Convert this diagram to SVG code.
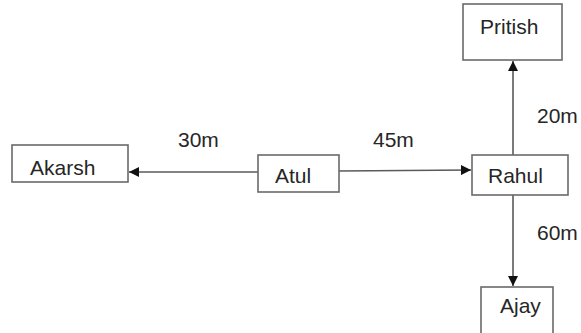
<svg xmlns="http://www.w3.org/2000/svg" width="581" height="333" viewBox="0 0 581 333">
<style>
.box{fill:#fff;stroke:#6a6a6a;stroke-width:1.6}
.lbl{font-family:"Liberation Sans",Arial,sans-serif;font-size:21px;fill:#262626}
.edge{stroke:#5a5a5a;stroke-width:1.6;fill:none}
</style>
<defs>
<marker id="arr" viewBox="0 0 10 10" refX="10" refY="5" markerWidth="10" markerHeight="10" markerUnits="userSpaceOnUse" orient="auto">
<path d="M0,0 L10,5 L0,10 Z" fill="#111"/>
</marker>
</defs>
<g id="connectors">
<line class="edge" x1="258" y1="172" x2="129" y2="172" marker-end="url(#arr)"/>
<line class="edge" x1="339" y1="171" x2="471" y2="170" marker-end="url(#arr)"/>
<line class="edge" x1="513" y1="155" x2="513" y2="61" marker-end="url(#arr)"/>
<line class="edge" x1="513" y1="195" x2="513" y2="286" marker-end="url(#arr)"/>
<text class="lbl" x="178" y="147">30m</text>
<text class="lbl" x="373" y="147">45m</text>
<text class="lbl" x="537" y="123">20m</text>
<text class="lbl" x="537" y="240">60m</text>
</g>
<g id="akarsh">
<rect class="box" x="12" y="145" width="116" height="37"/>
<text class="lbl" x="30" y="175">Akarsh</text>
</g>
<g id="atul">
<rect class="box" x="258" y="155" width="81" height="37"/>
<text class="lbl" x="275" y="183">Atul</text>
</g>
<g id="rahul">
<rect class="box" x="472" y="155" width="96" height="40"/>
<text class="lbl" x="488" y="183">Rahul</text>
</g>
<g id="pritish">
<rect class="box" x="463" y="4" width="99" height="56"/>
<text class="lbl" x="480" y="34">Pritish</text>
</g>
<g id="ajay">
<rect class="box" x="481" y="287" width="72" height="50"/>
<text class="lbl" x="500" y="313">Ajay</text>
</g>
</svg>
